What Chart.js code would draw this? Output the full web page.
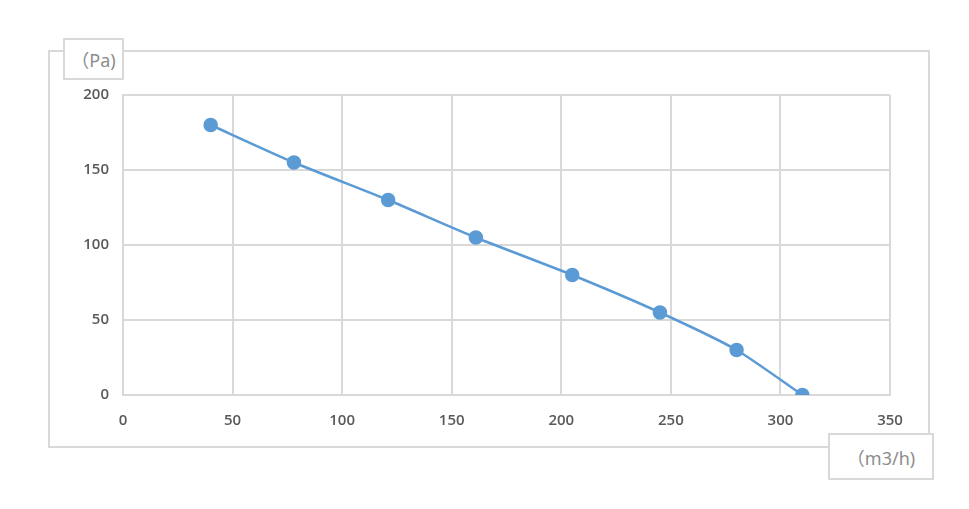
<!DOCTYPE html>
<html>
<head>
<meta charset="utf-8">
<script src="https://cdn.jsdelivr.net/npm/chart.js@4/dist/chart.umd.min.js"></script>
<style>
  html, body { margin: 0; padding: 0; background: #fff; }
  #wrap { position: relative; width: 969px; height: 509px; }
  #frame { position: absolute; left: 48px; top: 50px; width: 878px; height: 394px; border: 2px solid #d9d9d9; }
  .unit { position: absolute; background: #fff; border: 2px solid #d9d9d9; color: #8c8c8c;
          font-family: "Noto Sans", "Noto Sans CJK SC", sans-serif; font-size: 18px; display: flex; align-items: center; justify-content: center; box-sizing: border-box; }
  #unitY { left: 63px; top: 38px; width: 61px; height: 42px; }
  #unitX { left: 828px; top: 433px; width: 106px; height: 47px; }
  canvas { position: absolute; left: 0; top: 0; }
</style>
</head>
<body>
<div id="wrap">
  <div id="frame"></div>
  <canvas id="fanChart" width="969" height="509"></canvas>
  <div class="unit" id="unitY">（Pa)</div>
  <div class="unit" id="unitX">（m3/h)</div>
</div>
<script>
// caudal (m3/h) y presión (Pa)
const caudal = [40, 78, 121, 161, 205, 245, 280, 310];
const presion = [180, 155, 130, 105, 80, 55, 30, 0];
const xTicks = [0, 50, 100, 150, 200, 250, 300, 350];
const yTicks = [0, 50, 100, 150, 200];

const puntos = caudal.map((x, i) => ({ x: x, y: presion[i] }));
const colorGrid = '#d9d9d9';
const colorTexto = '#595959';
const fuenteTicks = { family: 'Open Sans', size: 15, weight: '600' };

new Chart(document.getElementById('fanChart').getContext('2d'), {
    type: 'line',
    data: {
        datasets: [{
            data: puntos,
            borderColor: '#5b9bd5',
            backgroundColor: '#5b9bd5',
            borderWidth: 2.5,
            pointRadius: 6,
            pointHoverRadius: 6,
            tension: 0.2,
            fill: false
        }]
    },
    options: {
        responsive: false,
        animation: false,
        layout: { padding: { left: 0, top: 95, right: 79, bottom: 0 } },
        plugins: { legend: { display: false }, tooltip: { enabled: false } },
        scales: {
            x: {
                type: 'linear',
                min: 0, max: 350,
                afterBuildTicks: (s) => { s.ticks = xTicks.map(v => ({ value: v })); },
                afterFit: (s) => { s.height = 114; },
                grid: { color: colorGrid, lineWidth: 2, drawTicks: false },
                border: { color: colorGrid, width: 2 },
                ticks: { color: colorTexto, padding: 17, font: fuenteTicks }
            },
            y: {
                min: 0, max: 200,
                afterBuildTicks: (s) => { s.ticks = yTicks.map(v => ({ value: v })); },
                afterFit: (s) => { s.width = 123; },
                grid: { color: colorGrid, lineWidth: 2, drawTicks: false },
                border: { color: colorGrid, width: 2 },
                ticks: { color: colorTexto, padding: 14, font: fuenteTicks }
            }
        }
    }
});
</script>
</body>
</html>
